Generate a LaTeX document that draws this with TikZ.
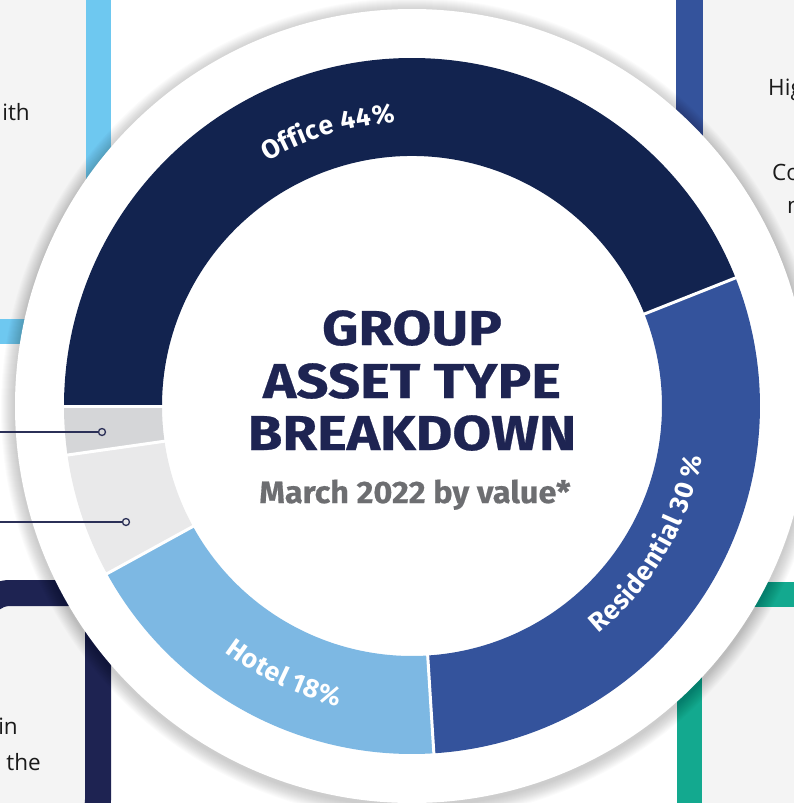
\documentclass[tikz,border=0pt]{standalone}
\usepackage{fontspec}
\setmainfont{Open Sans}
\newfontfamily\labelfont{Fira Sans}
\newfontfamily\titlefont[FakeBold=0.5]{Fira Sans}
\definecolor{office}{RGB}{18,35,79}
\definecolor{resi}{RGB}{52,83,156}
\definecolor{hotel}{RGB}{125,184,227}
\definecolor{lgrey}{RGB}{233,233,234}
\definecolor{dgrey}{RGB}{213,214,216}
\definecolor{titlenavy}{RGB}{30,36,82}
\definecolor{subgrey}{RGB}{109,110,113}
\definecolor{panel}{RGB}{244,244,244}
\definecolor{lightbar}{RGB}{110,200,240}
\definecolor{navybar}{RGB}{30,35,82}
\definecolor{tealbar}{RGB}{19,169,143}
\definecolor{bodytext}{RGB}{26,26,26}
\definecolor{leader}{RGB}{43,48,87}
\newcommand\segfont{\labelfont\bfseries\fontsize{26.5}{26.5}\selectfont}
\newbox\chbox
% widths of the letters of a slice label, taken before the picture: name, letters
\newcommand\measurelabel[2]{%
  \gdef\arcsum{0}%
  \foreach \ch [count=\i] in {#2}{%
    \setbox\chbox\hbox{\segfont\ch}%
    \pgfmathsetmacro\arcmid{\arcsum+1.04*\the\wd\chbox/2}%
    \expandafter\global\expandafter\let\csname p#1\i\endcsname\arcmid
    \pgfmathsetmacro\arcnew{\arcsum+1.04*\the\wd\chbox}%
    \global\let\arcsum\arcnew}%
  \expandafter\global\expandafter\let\csname t#1\endcsname\arcsum}
% letters set along an arc: name, radius, centre angle, direction (-1 cw, 1 ccw), letters
\newcommand\arclabel[5]{%
  \foreach \ch [count=\i] in {#5}{%
    \expandafter\let\expandafter\chT\csname t#1\endcsname
    \expandafter\let\expandafter\chP\csname p#1\i\endcsname
    \pgfmathsetmacro\chang{#3-(#4)*(\chT/2-\chP)*57.29578/#2}%
    \node[seglabel, rotate=\chang+(#4)*90] (#1\i) at (\chang:#2) {\segfont\ch};}}
\tikzset{
  seglabel/.style={anchor=base, inner sep=0pt, text=white},
  sidetext/.style={anchor=base east, inner sep=0pt, font=\fontsize{22.5}{27}\selectfont, text=bodytext},
  titleline/.style={anchor=base, inner sep=0pt, xscale=1.15, font=\titlefont\bfseries\fontsize{49}{52}\selectfont, text=titlenavy},
  dot/.style={circle, draw=leader, line width=1.3pt, inner sep=0pt, minimum size=7pt},
  leaderline/.style={draw=leader, line width=1.3pt},
}

\begin{document}
\measurelabel{office}{O,f,f,i,c,e,\ ,4,4,\%}
\measurelabel{resi}{R,e,s,i,d,e,n,t,i,a,l,\ ,3,0,\ ,\%}
\measurelabel{hotel}{H,o,t,e,l,\ ,1,8,\%}
\begin{tikzpicture}[x=1pt,y=1pt,yscale=-1]
		\clip (0,0) rectangle (794,803);

		% side panels
		\filldraw[fill=panel, draw=lightbar, line width=25pt] (-20,-20) rectangle (98,331);
		\filldraw[fill=panel, draw=navybar, line width=26pt, rounded corners=30pt] (-20,593) -- (98,593) -- (98,830) -- (-20,830) -- cycle;
		\filldraw[fill=panel, draw=resi, line width=27pt] (689.5,-20) rectangle (830,400);
		\filldraw[fill=panel, draw=tealbar, line width=25pt] (689.5,594.5) rectangle (830,830);

		\draw (30,120) node[sidetext] (txtA) {ith};
		\draw (18,734) node[sidetext] (txtB) {in};
		\draw (41,770) node[sidetext] (txtC) {the};
		\draw (768,95) node[sidetext, anchor=base west] (txtD) {Hig};
		\draw (772,180) node[sidetext, anchor=base west] (txtE) {Co};
		\draw (787,213) node[sidetext, anchor=base west] (txtF) {n};

		% disc with soft shadow
		\foreach \r in {1,...,14}
			\fill[black, opacity=0.015] (412,409) circle[radius=397+\r];
		\fill[white] (412,406) circle[radius=397];

		\begin{scope}[shift={(412,406)}, yscale=-1]
			\foreach \a/\b/\c in {21.6/180/office, -86.4/21.6/resi, -151.2/-86.4/hotel, -171.9/-151.2/lgrey, -180/-171.9/dgrey}
				\fill[\c] (\a:250) arc[start angle=\a, end angle=\b, radius=250] -- (\b:348) arc[start angle=\b, end angle=\a, radius=348] -- cycle;
			\foreach \a in {21.6,-86.4,-151.2,-171.9,180}
				\draw[white, line width=3pt] (\a:240) -- (\a:358);

			\arclabel{office}{284}{107}{-1}{O,f,f,i,c,e,\ ,4,4,\%}
			\arclabel{resi}{294}{-30.3}{1}{R,e,s,i,d,e,n,t,i,a,l,\ ,3,0,\ ,\%}
			\arclabel{hotel}{309}{-115.5}{1}{H,o,t,e,l,\ ,1,8,\%}
		\end{scope}

		% leaders to the small slices
		\coordinate (leadA) at (0,432);
		\coordinate (leadB) at (0,522);
		\node[dot] (dotA) at (102,432) {};
		\node[dot] (dotB) at (126,522) {};
		\draw[leaderline] (leadA) -- (dotA);
		\draw[leaderline] (leadB) -- (dotB);

		\draw (412,345) node[titleline] (titleA) {GROUP};
		\draw (412,398) node[titleline] (titleB) {ASSET TYPE};
		\draw (412,450) node[titleline] (titleC) {BREAKDOWN};
		\draw (415,503) node[titleline, xscale=0.91, font=\titlefont\bfseries\fontsize{31}{31}\selectfont, text=subgrey] (subtitle) {March 2022 by value*};
\end{tikzpicture}
\end{document}
